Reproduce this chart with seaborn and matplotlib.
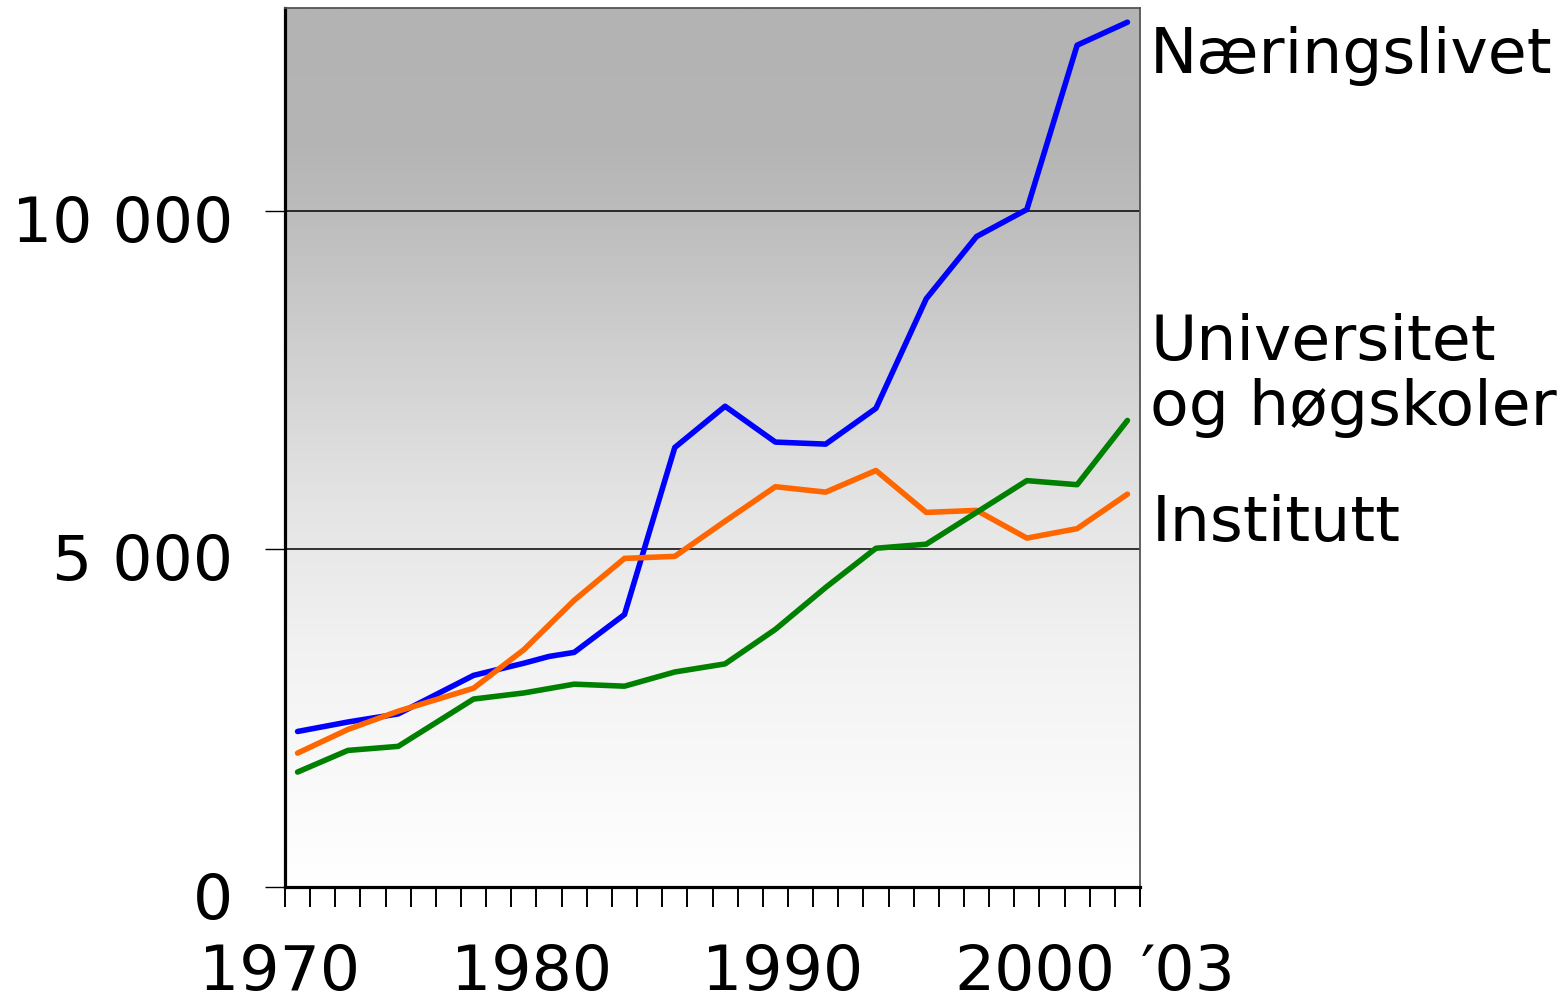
import matplotlib.pyplot as plt
import matplotlib.transforms as mtransforms
from matplotlib.colors import LinearSegmentedColormap
import numpy as np
import pandas as pd
import seaborn as sns

sns.set_style("ticks")
plt.rcParams['font.family'] = ['DejaVu Sans']
plt.rcParams['text.color'] = 'black'
plt.rcParams['xtick.color'] = 'black'
plt.rcParams['ytick.color'] = 'black'

# data (R&D personnel by sector)
years_naering = [1970, 1972, 1974, 1977, 1979, 1980, 1981, 1983, 1985, 1987, 1989,
                 1991, 1993, 1995, 1997, 1999, 2001, 2003]
naeringslivet = [2300, 2440, 2560, 3130, 3310, 3410, 3470, 4030, 6500, 7110, 6580,
                 6550, 7080, 8700, 9620, 10020, 12450, 12790]

years = [1970, 1972, 1974, 1977, 1979, 1981, 1983, 1985, 1987, 1989,
         1991, 1993, 1995, 1997, 1999, 2001, 2003]
institutt = [1980, 2330, 2600, 2940, 3510, 4240, 4860, 4890, 5410, 5920,
             5840, 6160, 5540, 5570, 5160, 5300, 5810]
universitet = [1700, 2020, 2080, 2780, 2870, 3000, 2970, 3180, 3300, 3810,
               4430, 5010, 5070, 5540, 6010, 5950, 6900]

series_names = ["Næringslivet", "Institutt", "Universitet og høgskoler"]
series_colors = ["#0000ff", "#ff6600", "#008000"]

yticks = [0, 5000, 10000]
ytick_labels = ["0", "5 000", "10 000"]
decade_labels = [1970, 1980, 1990, 2000]

df = pd.concat([
    pd.DataFrame({"year": years_naering, "value": naeringslivet, "sector": series_names[0]}),
    pd.DataFrame({"year": years, "value": institutt, "sector": series_names[1]}),
    pd.DataFrame({"year": years, "value": universitet, "sector": series_names[2]}),
])

FS = 45.5

fig = plt.figure(figsize=(15.68, 10.01), dpi=100)
ax = fig.add_axes([285 / 1568, 1 - 887 / 1001, (1140 - 285) / 1568, (887 - 8) / 1001])

x0, x1 = 1969.5, 2003.5
y0, y1 = 0, 13000

# grey-to-white gradient background
cmap = LinearSegmentedColormap.from_list("bg", [
    (0.0, "#ffffff"),
    (3500 / 13000, "#f2f2f2"),
    (5700 / 13000, "#e4e4e4"),
    (7900 / 13000, "#d0d0d0"),
    (10000 / 13000, "#bcbcbc"),
    (11000 / 13000, "#b5b5b5"),
    (1.0, "#b3b3b3"),
])
grad = np.linspace(0, 1, 400).reshape(-1, 1)
ax.imshow(grad, extent=[x0, x1, y0, y1], origin="lower", aspect="auto",
          cmap=cmap, vmin=0, vmax=1, zorder=0)

for yv in [5000, 10000]:
    ax.axhline(yv, color="black", lw=1.1, zorder=1)

sns.lineplot(data=df, x="year", y="value", hue="sector", hue_order=series_names,
             palette=series_colors, linewidth=4.0, legend=False, ax=ax, zorder=3,
             solid_capstyle="round")

ax.set_xlim(x0, x1)
ax.set_ylim(y0, y1)
ax.set_xlabel("")
ax.set_ylabel("")

# spines
for side in ["left", "bottom"]:
    ax.spines[side].set_linewidth(2.3)
    ax.spines[side].set_color("black")
for side in ["top", "right"]:
    ax.spines[side].set_linewidth(1.3)
    ax.spines[side].set_color("#555555")

# y ticks
ax.set_yticks(yticks)
ax.set_yticklabels(ytick_labels, fontsize=FS)
ax.tick_params(axis="y", direction="out", length=14.4, width=1.0, pad=23, color="black")
offset = mtransforms.ScaledTranslation(0, -8 / 100, fig.dpi_scale_trans)
for lab in ax.get_yticklabels():
    lab.set_transform(lab.get_transform() + offset)

# x ticks: a tick on every year boundary, labels placed by hand
ax.set_xticks(np.arange(x0, x1 + 0.01, 1.0))
ax.set_xticklabels([])
ax.tick_params(axis="x", direction="out", length=14.4, width=1.4, color="black")

xlab_trans = mtransforms.blended_transform_factory(ax.transData, fig.transFigure)
for yr in decade_labels:
    ax.text(yr - 0.7, (1001 - 990) / 1001, str(yr), transform=xlab_trans,
            ha="center", va="baseline", fontsize=FS)
ax.text(2003 + 2.4, (1001 - 990) / 1001, "\u203203", transform=xlab_trans,
        ha="center", va="baseline", fontsize=FS)

# series labels on the right
fig.text(1150 / 1568, 1 - 73 / 1001, "Næringslivet", fontsize=FS, va="baseline")
fig.text(1150 / 1568, 1 - 360 / 1001, "Universitet", fontsize=FS, va="baseline")
fig.text(1150 / 1568, 1 - 425 / 1001, "og høgskoler", fontsize=FS, va="baseline")
fig.text(1152 / 1568, 1 - 541 / 1001, "Institutt", fontsize=FS, va="baseline")

fig.savefig("out.png", dpi=100)
